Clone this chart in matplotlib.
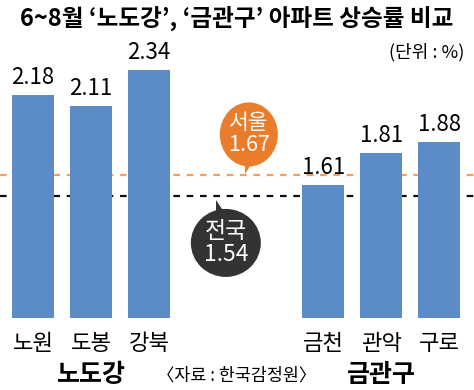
import matplotlib
matplotlib.use('Agg')
import matplotlib.pyplot as plt
from matplotlib.patches import Ellipse, Polygon

plt.rcParams['font.family'] = ['Noto Sans CJK KR', 'DejaVu Sans']

# 데이터
지역 = ['노원', '도봉', '강북', '금천', '관악', '구로']
상승률 = [2.18, 2.11, 2.34, 1.61, 1.81, 1.88]
위치 = [0, 1, 2, 5, 6, 7]
그룹 = ['노도강', '금관구']
그룹위치 = [1, 6]
서울 = 1.67
전국 = 1.54

파랑 = '#5b8cc8'
주황 = '#e97d2b'
검정 = '#333333'

fig = plt.figure(figsize=(4.74, 3.9), dpi=100)
ax = fig.add_axes([0, 72 / 390, 1, (318 - 40) / 390])
ax.bar(위치, 상승률, width=0.72, color=파랑)
ax.set_xlim(-0.57, 7.6)
ax.set_ylim(0.765, 2.53)
ax.axis('off')

for x, v in zip(위치, 상승률):
    ax.text(x, v + 0.04, f'{v:.2f}', ha='center', va='bottom', fontsize=16)

ax.axhline(서울, color='#f0a060', lw=1.6, ls=(0, (3, 3)), zorder=0)
ax.axhline(전국, color='#111111', lw=1.6, ls=(0, (3, 3)), zorder=0)

# 말풍선 (픽셀 좌표 오버레이)
ov = fig.add_axes([0, 0, 1, 1])
ov.set_xlim(0, 474)
ov.set_ylim(390, 0)
ov.axis('off')
fig.canvas.draw()


def 픽셀(x, y):
    px, py = ax.transData.transform((x, y))
    return px, 390 - py


# 서울
tx, ty = 픽셀(3.65, 서울)
cx, cy = tx + 4, ty - 41
ov.add_patch(Polygon([(tx, ty - 1), (cx - 4, cy + 20), (cx + 9, cy + 20)], color=주황, lw=0))
ov.add_patch(Ellipse((cx, cy), 58, 64, color=주황, lw=0))
ov.text(cx, cy, f'서울\n{서울}', color='white', ha='center', va='center',
        fontsize=15.5, linespacing=1.0)

# 전국
tx, ty = 픽셀(3.15, 전국)
cx, cy = tx + 10, ty + 47
ov.add_patch(Polygon([(tx, ty + 4), (cx - 10, cy - 22), (cx + 4, cy - 22)], color=검정, lw=0))
ov.add_patch(Ellipse((cx, cy), 70, 68, color=검정, lw=0))
ov.text(cx, cy, f'전국\n{전국}', color='white', ha='center', va='center',
        fontsize=16.5, linespacing=1.0)

# 축 아래 글자
for x, name in zip(위치, 지역):
    px, _ = 픽셀(x, 0.765)
    ov.text(px, 344, name, ha='center', va='center', fontsize=16)
for x, name in zip(그룹위치, 그룹):
    px, _ = 픽셀(x, 0.765)
    ov.text(px, 375, name, ha='center', va='center', fontsize=18, fontweight='bold')
ov.text(237, 375, '〈자료 : 한국감정원〉', ha='center', va='center', fontsize=12.5)

ov.text(237, 18, '6~8월 ‘노도강’, ‘금관구’ 아파트 상승률 비교', ha='center', va='center',
        fontsize=17, fontweight='bold')
ov.text(464, 52, '(단위 : %)', ha='right', va='center', fontsize=13)

fig.savefig('out.png', dpi=100)
